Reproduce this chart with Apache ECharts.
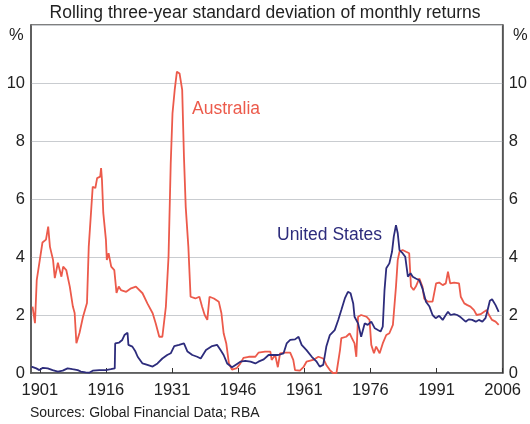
<!DOCTYPE html>
<html>
<head>
<meta charset="utf-8">
<script src="https://cdn.jsdelivr.net/npm/echarts@6/dist/echarts.min.js"></script>
<style>
    body { margin: 0; background: #fff; }
    #main { width: 530px; height: 424px; }
</style>
</head>
<body>
<div id="main"></div>
<script>
const ausYears = [1899.35, 1899.9, 1900.3, 1901, 1901.6, 1902.4, 1902.9, 1903.3, 1904, 1904.4, 1905.1, 1905.9, 1906.3, 1907, 1907.8, 1908.5, 1908.9, 1909.3, 1910, 1910.8, 1911.7, 1912.1, 1912.7, 1913, 1913.6, 1914, 1914.7, 1914.9, 1915.1, 1915.4, 1916, 1916.2, 1916.6, 1917.2, 1917.9, 1918.4, 1918.9, 1919.4, 1920.6, 1921.7, 1922.8, 1924.3, 1925.4, 1926.6, 1927.3, 1928.1, 1928.8, 1929.6, 1930.2, 1930.7, 1931.1, 1931.6, 1932.1, 1932.7, 1933.3, 1933.7, 1934.1, 1934.7, 1935.2, 1936.3, 1937.2, 1937.8, 1938.4, 1939, 1939.5, 1940.5, 1941.6, 1942.2, 1942.7, 1943.3, 1943.9, 1944.6, 1945.7, 1946.5, 1947.2, 1948.4, 1949.9, 1950.6, 1952.1, 1953.3, 1953.6, 1954.4, 1955, 1955.5, 1956.6, 1957.8, 1958.5, 1958.9, 1960, 1960.8, 1961.5, 1963, 1964.2, 1965.3, 1966, 1966.8, 1967.5, 1968.3, 1969.1, 1969.4, 1970.5, 1971.3, 1971.8, 1972.4, 1972.8, 1973.2, 1973.9, 1975.1, 1975.8, 1976.2, 1976.8, 1977.3, 1978.1, 1978.8, 1979.6, 1980.3, 1981.1, 1981.5, 1981.8, 1982.2, 1982.6, 1983.3, 1984.1, 1984.8, 1985.2, 1985.8, 1986.3, 1987.1, 1987.8, 1988.2, 1989, 1990.1, 1990.5, 1990.9, 1991.6, 1992.4, 1993.1, 1993.6, 1994.1, 1995, 1996.1, 1996.5, 1997.3, 1998, 1998.7, 1999.5, 2000.1, 2001, 2001.8, 2002.4, 2002.9, 2003.6, 2004.4, 2005.1]
const ausValues = [2.29, 1.72, 3.2, 3.9, 4.5, 4.6, 5.05, 4.35, 3.9, 3.27, 3.8, 3.32, 3.67, 3.55, 2.98, 2.29, 2.07, 1.03, 1.38, 1.94, 2.41, 4.35, 5.73, 6.42, 6.38, 6.72, 6.77, 7.07, 6.66, 5.52, 4.59, 3.9, 4.13, 3.67, 3.55, 2.76, 2.98, 2.86, 2.8, 2.92, 2.98, 2.75, 2.4, 2.06, 1.71, 1.25, 1.25, 2.29, 4.01, 7.23, 8.95, 9.76, 10.39, 10.33, 9.76, 7.46, 5.73, 4.35, 2.63, 2.57, 2.63, 2.29, 2.0, 1.83, 2.63, 2.57, 2.46, 2.06, 1.37, 1.02, 0.33, 0.12, 0.17, 0.33, 0.52, 0.56, 0.56, 0.7, 0.74, 0.74, 0.45, 0.62, 0.2, 0.68, 0.7, 0.7, 0.45, 0.1, 0.08, 0.2, 0.39, 0.45, 0.56, 0.5, 0.28, 0.1, 0.0, 0.0, 0.79, 1.2, 1.25, 1.37, 1.2, 1.02, 0.56, 1.94, 2.0, 1.94, 1.83, 0.97, 0.68, 0.91, 0.68, 1.02, 1.31, 1.37, 1.66, 1.71, 2.98, 3.9, 4.18, 4.24, 4.18, 4.13, 2.98, 2.86, 2.98, 3.26, 2.98, 2.57, 2.46, 2.46, 2.4, 3.09, 3.12, 3.03, 3.09, 3.49, 3.09, 3.12, 3.09, 2.63, 2.4, 2.34, 2.29, 2.17, 2.0, 2.03, 2.11, 2.17, 2.0, 1.83, 1.77, 1.66]

const usYears = [1899.1, 1900.2, 1900.9, 1901.7, 1902.8, 1903.9, 1905.1, 1906.2, 1907.3, 1908.4, 1909.6, 1910.3, 1911.4, 1912.2, 1913, 1914.5, 1916, 1917.1, 1918, 1918.1, 1919, 1919.7, 1920.2, 1920.9, 1921.1, 1922, 1922.7, 1923.2, 1924.3, 1925.4, 1926.6, 1927.7, 1928.8, 1929.9, 1930.7, 1931.5, 1932.6, 1933.7, 1934.5, 1935.6, 1936.7, 1937.5, 1938.7, 1940.1, 1941.2, 1942, 1942.7, 1943.5, 1944.6, 1945.4, 1946.5, 1947.6, 1948.8, 1949.9, 1950.6, 1951.8, 1952.9, 1954, 1955.1, 1956.3, 1957, 1957.8, 1958.9, 1959.7, 1960.4, 1961.5, 1962.7, 1963.8, 1964.5, 1965.3, 1966, 1966.8, 1967.9, 1968.7, 1969.4, 1970.2, 1970.9, 1971.5, 1972.1, 1972.4, 1973.2, 1973.9, 1974.7, 1975.4, 1976.2, 1977, 1977.7, 1978.3, 1978.8, 1979.2, 1979.6, 1980.3, 1980.9, 1981.3, 1981.8, 1982.2, 1982.6, 1983.3, 1983.9, 1984.5, 1985.1, 1985.6, 1986.3, 1987.1, 1987.8, 1988.6, 1989.4, 1990.1, 1990.8, 1991.6, 1992.4, 1993.1, 1993.6, 1994.2, 1995, 1995.7, 1996.5, 1997.6, 1998.3, 1999.1, 1999.9, 2000.6, 2001.4, 2002.1, 2002.5, 2003.1, 2003.6, 2004.4, 2005.1]
const usValues = [0.22, 0.16, 0.1, 0.18, 0.16, 0.1, 0.05, 0.08, 0.16, 0.13, 0.1, 0.05, 0.02, 0.01, 0.08, 0.1, 0.1, 0.13, 0.16, 1.02, 1.05, 1.14, 1.31, 1.39, 0.97, 0.91, 0.74, 0.56, 0.33, 0.28, 0.22, 0.33, 0.5, 0.62, 0.68, 0.93, 0.97, 1.02, 0.74, 0.62, 0.56, 0.5, 0.79, 0.93, 0.97, 0.79, 0.62, 0.33, 0.2, 0.28, 0.39, 0.42, 0.39, 0.33, 0.39, 0.47, 0.62, 0.62, 0.62, 0.68, 1.02, 1.14, 1.16, 1.25, 0.97, 0.79, 0.56, 0.39, 0.22, 0.28, 0.91, 1.31, 1.48, 1.83, 2.17, 2.57, 2.8, 2.75, 2.4, 1.94, 1.71, 1.25, 1.71, 1.66, 1.77, 1.54, 1.48, 1.43, 1.6, 2.86, 3.61, 3.78, 4.18, 4.7, 5.1, 4.82, 4.24, 4.13, 4.01, 3.32, 3.44, 3.32, 3.26, 3.2, 2.92, 2.46, 2.29, 2.0, 1.89, 1.97, 1.83, 2.0, 2.11, 2.0, 2.03, 2.0, 1.92, 1.77, 1.85, 1.83, 1.77, 1.83, 1.77, 1.89, 2.11, 2.49, 2.54, 2.34, 2.11]

const xTicks = [1901, 1916, 1931, 1946, 1961, 1976, 1991, 2006]

const zip = (xs, ys) => xs.map((x, i) => [x, ys[i]])

const font = 'Liberation Sans, Arial, sans-serif'
const red = '#ec5a4b'
const navy = '#2d2c7c'

const yAxisBase = (position) => ({
    type: 'value',
    position: position,
    min: 0,
    max: 12,
    interval: 2,
    axisLine: { show: true, lineStyle: { color: '#555', width: 1.5 } },
    axisTick: { show: false },
    axisLabel: {
        color: '#222',
        fontSize: 16.5,
        fontFamily: font,
        margin: 6,
        formatter: v => v === 12 ? '' : String(v),
    },
    splitLine: { show: position === 'left', lineStyle: { color: '#c9ccd0', width: 1.2 } },
})

const chart = echarts.init(document.querySelector('#main'))
const option = {
    backgroundColor: '#fff',
    animation: false,
    grid: {
        left: 31, right: 24, top: 25, bottom: 51,
        show: true, borderColor: '#555', borderWidth: 1.5,
    },
    title: {
        text: 'Rolling three-year standard deviation of monthly returns',
        left: 'center',
        top: -1,
        textStyle: { fontSize: 17.5, fontWeight: 'normal', color: '#222', fontFamily: font },
    },
    xAxis: {
        type: 'value',
        min: 1899,
        max: 2006,
        axisLine: { show: true, onZero: false, lineStyle: { color: '#555', width: 1.5 } },
        axisTick: { show: true, inside: true, length: 5, customValues: xTicks, lineStyle: { color: '#333' } },
        axisLabel: {
            customValues: xTicks,
            formatter: v => String(v),
            color: '#222', fontSize: 16.5, fontFamily: font, margin: 9,
        },
        splitLine: { show: false },
    },
    yAxis: [yAxisBase('left'), yAxisBase('right')],
    graphic: [
        { type: 'text', left: 9, top: 27, style: { text: '%', fontSize: 16.5, fill: '#222', fontFamily: font } },
        { type: 'text', left: 513, top: 27, style: { text: '%', fontSize: 16.5, fill: '#222', fontFamily: font } },
        { type: 'text', left: 192, top: 100, style: { text: 'Australia', fontSize: 17.5, fill: red, fontFamily: font } },
        { type: 'text', left: 277, top: 226, style: { text: 'United States', fontSize: 17.5, fill: navy, fontFamily: font } },
        { type: 'text', left: 30, top: 406, style: { text: 'Sources: Global Financial Data; RBA', fontSize: 14, fill: '#222', fontFamily: font } },
    ],
    series: [
        {
            name: 'Australia',
            type: 'line',
            showSymbol: false,
            data: zip(ausYears, ausValues),
            lineStyle: { color: red, width: 1.8 },
        },
        {
            name: 'United States',
            type: 'line',
            showSymbol: false,
            data: zip(usYears, usValues),
            lineStyle: { color: navy, width: 1.8 },
        },
    ],
}
chart.setOption(option)
</script>
</body>
</html>
